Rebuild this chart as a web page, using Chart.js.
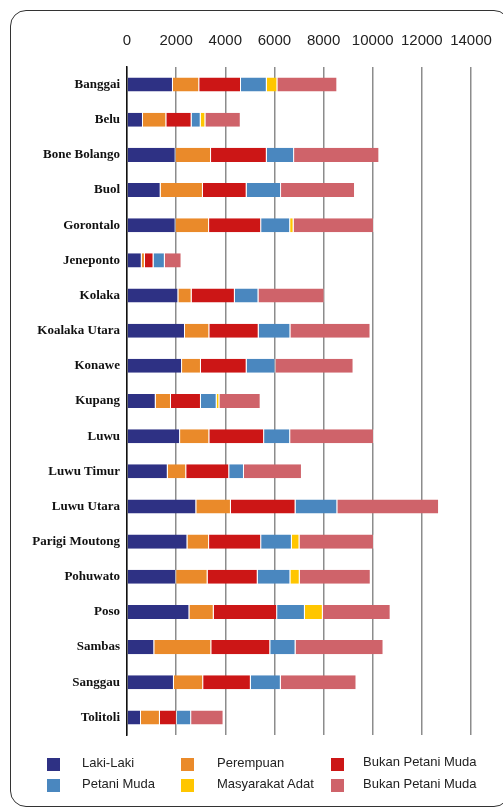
<!DOCTYPE html>
<html>
<head>
<meta charset="utf-8">
<script src="https://cdn.jsdelivr.net/npm/chart.js@4.4.1/dist/chart.umd.min.js"></script>
<style>
  html, body { margin:0; padding:0; background:#fff; width:503px; height:810px; overflow:hidden; }
  #frame { position:absolute; left:10px; top:10px; width:500px; height:797px; border:1.5px solid #333; border-radius:16px; box-sizing:border-box; }
  #wrap { position:absolute; left:0; top:0; width:503px; height:810px; }
  #legend { position:absolute; left:0; top:0; width:503px; height:810px; pointer-events:none; font-family:"Liberation Sans", Arial, sans-serif; font-size:13px; color:#222; }
  .lg-box { position:absolute; width:13px; height:13px; }
  .lg-txt { position:absolute; line-height:16px; white-space:nowrap; }
</style>
</head>
<body>
<div id="frame"></div>
<div id="wrap"><canvas id="c" width="503" height="810"></canvas></div>
<div id="legend"></div>
<script>
const categories = ["Banggai","Belu","Bone Bolango","Buol","Gorontalo","Jeneponto","Kolaka","Koalaka Utara","Konawe","Kupang","Luwu","Luwu Timur","Luwu Utara","Parigi Moutong","Pohuwato","Poso","Sambas","Sanggau","Tolitoli"];
const seriesNames = ["Laki-Laki","Perempuan","Bukan Petani Muda","Petani Muda","Masyarakat Adat","Bukan Petani Muda"];
const lakiLaki      = [1870, 650,1980,1370,1980, 600,2090,2360,2240,1170,2160,1660,2820,2460,2000,2540,1110,1910, 570];
const perempuan     = [1070, 950,1440,1720,1360, 130, 540, 990, 770, 620,1190, 750,1410, 880,1280, 990,2320,1190, 770];
const bukanPetani1  = [1700,1030,2270,1780,2120, 350,1760,2010,1860,1220,2230,1750,2630,2120,2040,2580,2400,1940, 690];
const petaniMuda    = [1050, 370,1110,1400,1180, 460, 960,1290,1170, 640,1060, 600,1700,1250,1330,1130,1030,1220, 580];
const masyarakatAdat= [ 430, 190,   0,   0, 140,   0,   0,   0,   0, 110,   0,   0,   0, 310, 380, 730,   0,   0,   0];
const bukanPetani2  = [2440,1440,3470,3010,3270, 680,2690,3260,3180,1680,3410,2360,4140,3030,2890,2760,3580,3080,1320];
const xTicks = [0,2000,4000,6000,8000,10000,12000,14000];
const seriesValues = [lakiLaki, perempuan, bukanPetani1, petaniMuda, masyarakatAdat, bukanPetani2];
const colors = ["#2e3184","#ea8a2a","#cc1616","#4a87bf","#ffc600","#cf636a"];

const datasets = seriesNames.map((n,i)=>({
  label:n, data:seriesValues[i], backgroundColor:colors[i],
  borderColor:"rgba(255,255,255,0.55)", borderWidth:{right:1, left:0, top:0, bottom:0}, borderSkipped:false,
  categoryPercentage:0.8, barPercentage:0.5
}));

new Chart(document.getElementById('c'), {
  type:'bar',
  data:{ labels:categories, datasets },
  options:{
    indexAxis:'y', responsive:false, animation:false,
    layout:{ padding:{ left:0, right:32, top:0, bottom:75 } },
    plugins:{ legend:{display:false}, tooltip:{enabled:false} },
    scales:{
      x:{
        position:'top', stacked:true, min:0, max:14000,
        afterBuildTicks:(s)=>{ s.ticks = xTicks.map(v=>({value:v})); },
        afterFit:(s)=>{ s.height = 67; s.paddingRight = 0; s.paddingLeft = 0; },
        grid:{ color:'#8c8c8c', lineWidth:1.5, drawTicks:false },
        border:{ display:false },
        ticks:{ padding:17, color:'#222', maxRotation:0, minRotation:0, autoSkip:false,
          callback:(v)=>String(v),
          font:{ family:"Liberation Sans", size:15 } }
      },
      y:{
        stacked:true,
        afterFit:(s)=>{ s.width = 127; },
        grid:{ display:false, drawTicks:false },
        border:{ display:true, color:'#111', width:1.5 },
        ticks:{ padding:7, color:'#111', font:{ family:"Liberation Serif", size:13, weight:'bold' } }
      }
    }
  }
});

// HTML legend built from the series arrays
const lg = document.getElementById('legend');
const colX = [[47,82],[181,217],[331,363]];
const rowY = [758, 779];
seriesNames.forEach((n,i)=>{
  const col = i%3, row = Math.floor(i/3);
  const b = document.createElement('div'); b.className='lg-box';
  b.style.left = colX[col][0]+'px'; b.style.top = rowY[row]+'px'; b.style.background = colors[i];
  const t = document.createElement('div'); t.className='lg-txt';
  t.style.left = colX[col][1]+'px'; t.style.top = (rowY[row]-3 - (col===2&&row===0?1:0))+'px'; t.textContent = n;
  lg.appendChild(b); lg.appendChild(t);
});
</script>
</body>
</html>
